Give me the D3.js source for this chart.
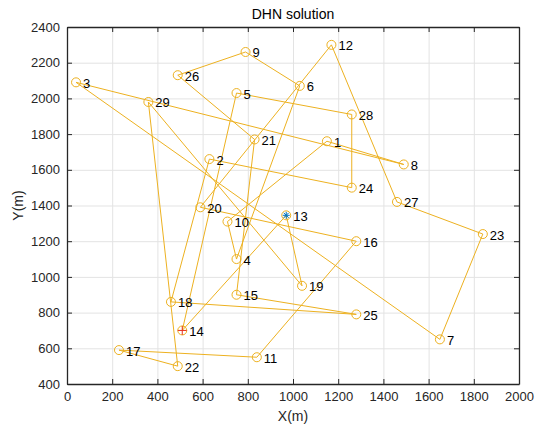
<!DOCTYPE html>
<html>
<head>
<meta charset="utf-8">
<script src="https://cdn.jsdelivr.net/npm/d3@7"></script>
<style>
  body { margin: 0; background: #fff; }
  text { font-family: "Liberation Sans", Arial, sans-serif; }
</style>
</head>
<body>
<div id="chart"></div>
<script>
// city coordinates (m)
var cityX = [1150, 630, 40, 750, 750, 1030, 1650, 1490, 790, 710,
             840, 1170, 970, 510, 750, 1280, 230, 460, 1040, 590,
             830, 490, 1840, 1260, 1280, 490, 1460, 1260, 360];
var cityY = [1760, 1660, 2090, 1100, 2030, 2070, 650, 1630, 2260, 1310,
             550, 2300, 1345, 700, 900, 1200, 590, 860, 950, 1390,
             1770, 500, 1240, 1500, 790, 2130, 1420, 1910, 1980];

// visiting order of the DHN tour (city numbers)
var tour = [13, 14, 5, 28, 24, 2, 18, 25, 15, 21, 26, 9, 6, 4, 10, 1, 8,
            3, 7, 23, 27, 12, 20, 16, 11, 17, 22, 29, 19, 13];
var startCity = 13;
var endCity = 14;

var xTicks = [0, 200, 400, 600, 800, 1000, 1200, 1400, 1600, 1800, 2000];
var yTicks = [400, 600, 800, 1000, 1200, 1400, 1600, 1800, 2000, 2200, 2400];

var svgWidth = 535, svgHeight = 432;
var plotLeft = 67, plotRight = 519, plotTop = 27, plotBottom = 384;
var width = plotRight - plotLeft, height = plotBottom - plotTop;

var cities = cityX.map(function(x, i) { return { id: i + 1, x: x, y: cityY[i] }; });
var route = tour.map(function(id) { return cities[id - 1]; });

var xScale = d3.scaleLinear().domain([0, 2000]).range([0, width]);
var yScale = d3.scaleLinear().domain([400, 2400]).range([height, 0]);

var svg = d3.select("#chart")
            .append("svg")
            .attr("width", svgWidth)
            .attr("height", svgHeight);

var g = svg.append("g").attr("transform", "translate(" + plotLeft + "," + plotTop + ")");

g.append("rect").attr("width", width).attr("height", height).attr("fill", "#fff");

// grid
g.append("g")
  .attr("transform", "translate(0," + height + ")")
  .call(d3.axisBottom(xScale).tickValues(xTicks).tickSize(-height).tickFormat(""))
  .call(function(s) { s.select(".domain").remove(); s.selectAll("line").attr("stroke", "#e3e3e3"); });
g.append("g")
  .call(d3.axisLeft(yScale).tickValues(yTicks).tickSize(-width).tickFormat(""))
  .call(function(s) { s.select(".domain").remove(); s.selectAll("line").attr("stroke", "#e3e3e3"); });

// tour
var line = d3.line()
             .x(function(d) { return xScale(d.x); })
             .y(function(d) { return yScale(d.y); });

g.append("path")
  .datum(route)
  .attr("d", line)
  .attr("fill", "none")
  .attr("stroke", "#EDB120")
  .attr("stroke-width", 1);

g.selectAll("circle.city")
  .data(cities)
  .enter()
    .append("circle")
    .attr("class", "city")
    .attr("cx", function(d) { return xScale(d.x); })
    .attr("cy", function(d) { return yScale(d.y); })
    .attr("r", 4.5)
    .attr("fill", "none")
    .attr("stroke", "#EDB120")
    .attr("stroke-width", 1);

// start marker (asterisk) and end marker (plus)
var s = cities[startCity - 1];
var sx = xScale(s.x), sy = yScale(s.y);
var star = g.append("g").attr("stroke", "#0072BD").attr("stroke-width", 1);
[0, 45, 90, 135].forEach(function(a) {
  var r = 3.5, t = a * Math.PI / 180;
  star.append("line")
    .attr("x1", sx - r * Math.cos(t)).attr("y1", sy - r * Math.sin(t))
    .attr("x2", sx + r * Math.cos(t)).attr("y2", sy + r * Math.sin(t));
});

var e = cities[endCity - 1];
var ex = xScale(e.x), ey = yScale(e.y);
var plus = g.append("g").attr("stroke", "#E8321E").attr("stroke-width", 1);
plus.append("line").attr("x1", ex - 4.5).attr("x2", ex + 4.5).attr("y1", ey).attr("y2", ey);
plus.append("line").attr("x1", ex).attr("x2", ex).attr("y1", ey - 4.5).attr("y2", ey + 4.5);

// city labels
g.selectAll("text.label")
  .data(cities)
  .enter()
    .append("text")
    .attr("class", "label")
    .attr("x", function(d) { return xScale(d.x) + 7; })
    .attr("y", function(d) { return yScale(d.y) + 5.5; })
    .attr("font-size", "13px")
    .attr("fill", "#000")
    .text(function(d) { return d.id; });

// axes, ticks inside like matlab
function styleAxis(s) {
  s.select(".domain").attr("stroke", "#262626").attr("stroke-width", 1.3);
  s.selectAll(".tick line").attr("stroke", "#262626").attr("stroke-width", 1);
  s.selectAll(".tick text").attr("font-size", "13px").attr("fill", "#262626")
    .attr("font-family", "Liberation Sans, Arial, sans-serif");
}

var fmt = d3.format("d");

g.append("g")
  .attr("transform", "translate(0," + height + ")")
  .call(d3.axisBottom(xScale).tickValues(xTicks).tickFormat(fmt).tickSizeInner(-5).tickSizeOuter(0).tickPadding(8))
  .call(styleAxis);
g.append("g")
  .call(d3.axisTop(xScale).tickValues(xTicks).tickSizeInner(-5).tickSizeOuter(0).tickFormat(""))
  .call(styleAxis);
g.append("g")
  .call(d3.axisLeft(yScale).tickValues(yTicks).tickFormat(fmt).tickSizeInner(-5).tickSizeOuter(0).tickPadding(7))
  .call(styleAxis);
g.append("g")
  .attr("transform", "translate(" + width + ",0)")
  .call(d3.axisRight(yScale).tickValues(yTicks).tickSizeInner(-5).tickSizeOuter(0).tickFormat(""))
  .call(styleAxis);

// title and axis labels
svg.append("text")
  .attr("x", plotLeft + width / 2)
  .attr("y", 19)
  .attr("text-anchor", "middle")
  .attr("font-size", "14px")
  .attr("fill", "#000")
  .text("DHN solution");

svg.append("text")
  .attr("x", plotLeft + width / 2)
  .attr("y", 421)
  .attr("text-anchor", "middle")
  .attr("font-size", "14px")
  .attr("fill", "#262626")
  .text("X(m)");

svg.append("text")
  .attr("transform", "translate(23," + (plotTop + height / 2) + ") rotate(-90)")
  .attr("text-anchor", "middle")
  .attr("font-size", "14px")
  .attr("fill", "#262626")
  .text("Y(m)");
</script>
</body>
</html>
